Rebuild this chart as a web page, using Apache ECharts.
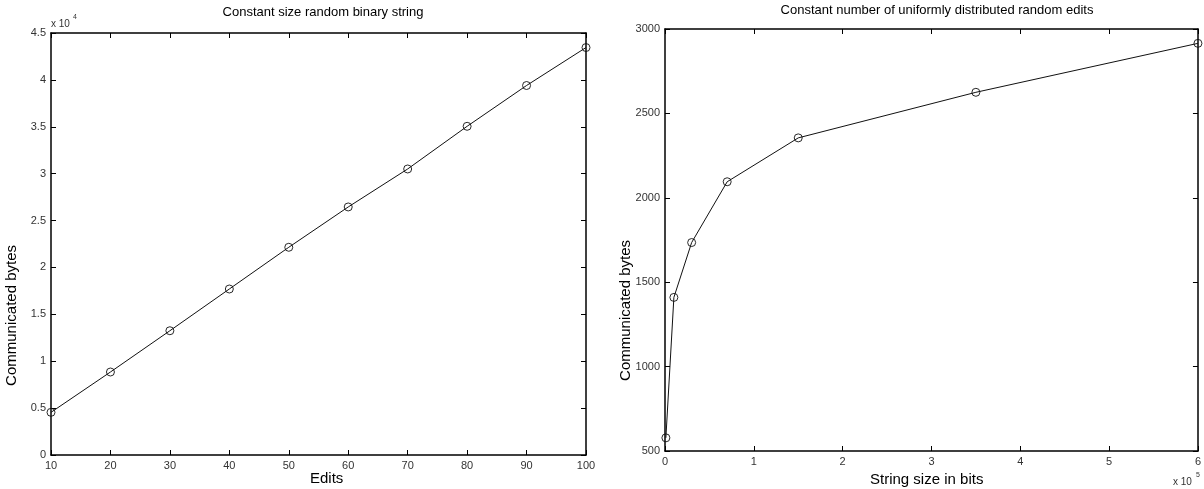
<!DOCTYPE html>
<html>
<head>
<meta charset="utf-8">
<script src="https://cdn.jsdelivr.net/npm/echarts@6/dist/echarts.min.js"></script>
<style>
  html, body { margin: 0; padding: 0; background: #fff; }
  #main { width: 1204px; height: 489px; }
</style>
</head>
<body>
<div id="main"></div>
<script>
// left panel: constant size string, varying number of edits
let edits = [10, 20, 30, 40, 50, 60, 70, 80, 90, 100]
let editBytes = [4550, 8850, 13250, 17700, 22150, 26450, 30500, 35050, 39400, 43450]

// right panel: constant number of edits, varying string size
let stringSizes = [1000, 10000, 30000, 70000, 150000, 350000, 600000]
let sizeBytes = [578, 1410, 1735, 2095, 2355, 2625, 2915]

let font = "Liberation Sans, Arial, Helvetica, sans-serif"
let tickColor = "#333"

function pairs(xs, ys) {
    return xs.map((x, i) => [x, ys[i]])
}

function boxAxis(gridIndex, position, min, max, interval, showLabel, formatter) {
    return {
        type: "value",
        gridIndex: gridIndex,
        position: position,
        min: min,
        max: max,
        interval: interval,
        splitLine: { show: false },
        axisLine: { show: true, onZero: false, lineStyle: { color: "#000", width: 1.5 } },
        axisTick: { show: true, inside: true, length: 5, lineStyle: { color: "#000", width: 1 } },
        axisLabel: {
            show: showLabel,
            color: tickColor,
            fontSize: 11,
            fontFamily: font,
            margin: 5,
            formatter: formatter
        }
    }
}

function lineSeries(xi, yi, xs, ys) {
    return {
        type: "line",
        xAxisIndex: xi, yAxisIndex: yi,
        data: pairs(xs, ys),
        symbol: "circle",
        symbolSize: 8,
        lineStyle: { color: "#111", width: 1 },
        itemStyle: { color: "rgba(0,0,0,0)", borderColor: "#111", borderWidth: 0.9 }
    }
}

let chart = echarts.init(document.getElementById("main"))

let option = {
    animation: false,
    backgroundColor: "#fff",
    title: [
        {
            text: "Constant size random binary string",
            left: 318, top: 1, textAlign: "center",
            textStyle: { fontSize: 13, fontWeight: "normal", color: "#000", fontFamily: font }
        },
        {
            text: "Constant number of uniformly distributed random edits",
            left: 932, top: -1, textAlign: "center",
            textStyle: { fontSize: 13, fontWeight: "normal", color: "#000", fontFamily: font }
        }
    ],
    grid: [
        { left: 51, top: 33, width: 535, height: 422 },
        { left: 665, top: 29, width: 535, height: 422 }
    ],
    xAxis: [
        boxAxis(0, "bottom", 10, 100, 10, true, v => v),
        boxAxis(0, "top", 10, 100, 10, false),
        boxAxis(1, "bottom", 0, 600000, 100000, true, v => v / 100000),
        boxAxis(1, "top", 0, 600000, 100000, false)
    ],
    yAxis: [
        boxAxis(0, "left", 0, 45000, 5000, true, v => v / 10000),
        boxAxis(0, "right", 0, 45000, 5000, false),
        boxAxis(1, "left", 500, 3000, 500, true, v => v),
        boxAxis(1, "right", 500, 3000, 500, false)
    ],
    graphic: [
        { type: "text", left: 4, top: 245, rotation: Math.PI / 2, originX: 0, originY: 0,
          style: { text: "Communicated bytes", x: 0, y: 0, fontSize: 15, fontFamily: font, fill: "#000",
                   textAlign: "center", textVerticalAlign: "middle" } },
        { type: "text", left: 310, top: 471,
          style: { text: "Edits", fontSize: 15, fontFamily: font, fill: "#000" } },
        { type: "text", left: 618, top: 240, rotation: Math.PI / 2, originX: 0, originY: 0,
          style: { text: "Communicated bytes", x: 0, y: 0, fontSize: 15, fontFamily: font, fill: "#000",
                   textAlign: "center", textVerticalAlign: "middle" } },
        { type: "text", left: 870, top: 472,
          style: { text: "String size in bits", fontSize: 15, fontFamily: font, fill: "#000" } },
        { type: "text", left: 51, top: 19,
          style: { text: "x 10", fontSize: 10, fontFamily: font, fill: tickColor } },
        { type: "text", left: 73, top: 14,
          style: { text: "4", fontSize: 7, fontFamily: font, fill: tickColor } },
        { type: "text", left: 1173, top: 477,
          style: { text: "x 10", fontSize: 10, fontFamily: font, fill: tickColor } },
        { type: "text", left: 1196, top: 472,
          style: { text: "5", fontSize: 7, fontFamily: font, fill: tickColor } }
    ],
    series: [
        lineSeries(0, 0, edits, editBytes),
        lineSeries(2, 2, stringSizes, sizeBytes)
    ]
}

chart.setOption(option)
</script>
</body>
</html>
